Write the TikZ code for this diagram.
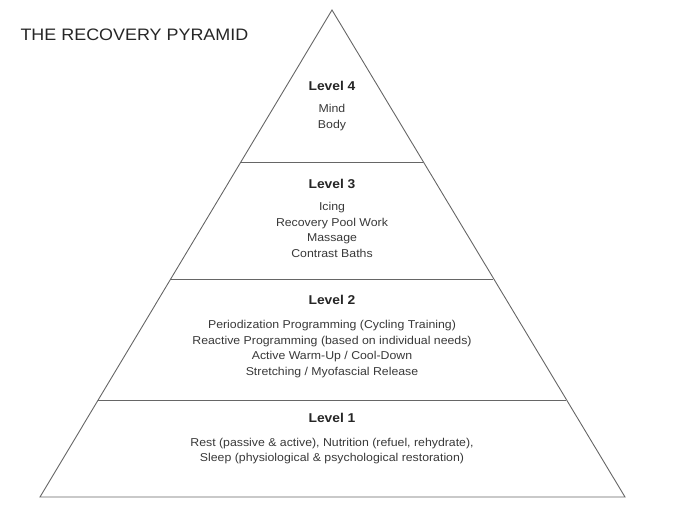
\documentclass[tikz,border=0pt]{standalone}
\usepackage{fontspec}
\setmainfont{Liberation Sans}[FakeStretch=1.08]
\begin{document}
\begin{tikzpicture}[x=1pt,y=-1pt,
  tier/.style={black!60,line width=0.9pt},
  levelname/.style={font=\fontsize{12.8}{14}\selectfont\bfseries,text=black!85},
  levelitems/.style={font=\fontsize{11.4}{15.4}\selectfont,text=black!78,align=center}]
  \useasboundingbox (0,0) rectangle (674,516);

  \node[anchor=west,font=\fontsize{16.6}{18}\selectfont,text=black!85] (title) at (17,35) {THE RECOVERY PYRAMID};

  % outline and the three dividing lines
  \draw[tier] (332,10) -- (625,497) -- (40,497) -- cycle;
  \foreach \y in {162,279,400}
    \draw[tier] ({332-0.6*(\y-10)},\y) -- ({332+0.6*(\y-10)},\y);

  \node[levelname] (lvl4) at (332,86) {Level 4};
  \node[levelitems] (items4) at (332,117.5) {Mind\\Body};

  \node[levelname] (lvl3) at (332,184) {Level 3};
  \node[levelitems] (items3) at (332,230) {Icing\\Recovery Pool Work\\Massage\\Contrast Baths};

  \node[levelname] (lvl2) at (332,300) {Level 2};
  \node[levelitems] (items2) at (332,349) {Periodization Programming (Cycling Training)\\Reactive Programming (based on individual needs)\\Active Warm-Up / Cool-Down\\Stretching / Myofascial Release};

  \node[levelname] (lvl1) at (332,418) {Level 1};
  \node[levelitems] (items1) at (332,451) {Rest (passive \& active), Nutrition (refuel, rehydrate),\\Sleep (physiological \& psychological restoration)};
\end{tikzpicture}
\end{document}
